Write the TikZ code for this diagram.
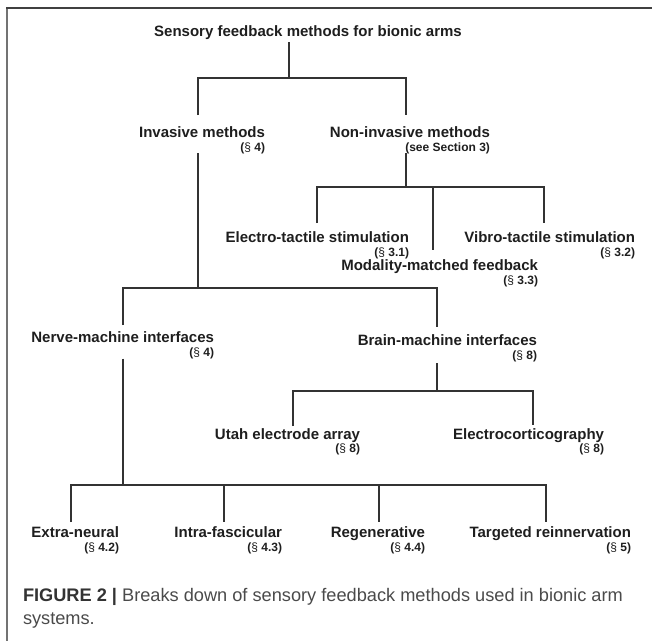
\documentclass[tikz,border=0pt]{standalone}
\usepackage{fontspec}
\setmainfont{Liberation Sans}
\definecolor{txt}{HTML}{1E1E1E}
\definecolor{lin}{HTML}{333333}
\definecolor{captb}{HTML}{333333}
\definecolor{captr}{HTML}{4A4A4A}
\newcommand{\secref}[1]{(\textmd{§}~#1)}
\begin{document}
\begin{tikzpicture}[x=1pt,y=-1pt,
  every node/.style={inner sep=0pt, outer sep=0pt, text=txt},
  item/.style={anchor=base east, font=\fontsize{15}{18}\selectfont\bfseries},
  ref/.style={anchor=base east, font=\fontsize{12}{14}\selectfont\bfseries},
  conn/.style={draw=lin, line width=1.2pt},
  capt/.style={anchor=base west, font=\fontsize{18.2}{22}\selectfont, text=captr}]
\useasboundingbox (0,0) rectangle (652,641);
% frame
\draw[draw=black!55, line width=2pt] (7,8) -- (7,641);
\draw[draw=black!75, line width=1.5pt] (6,8) -- (652,8);

% nodes
\node[item, anchor=base] (title) at (308,36) {Sensory feedback methods for bionic arms};
\node[item] (inv) at (265,137) {Invasive methods};
\node[ref] (invr) at (265,151) {\secref{4}};
\node[item] (noninv) at (490,137) {Non-invasive methods};
\node[ref] (noninvr) at (490,151) {(see Section 3)};
\node[item] (electro) at (409,242) {Electro-tactile stimulation};
\node[ref] (electror) at (409,256) {\secref{3.1}};
\node[item] (vibro) at (635,242) {Vibro-tactile stimulation};
\node[ref] (vibror) at (635,256) {\secref{3.2}};
\node[item] (modal) at (538,270) {Modality-matched feedback};
\node[ref] (modalr) at (538,284) {\secref{3.3}};
\node[item] (nerve) at (214,342) {Nerve-machine interfaces};
\node[ref] (nerver) at (214,356) {\secref{4}};
\node[item] (brain) at (537,345) {Brain-machine interfaces};
\node[ref] (brainr) at (537,359) {\secref{8}};
\node[item] (utah) at (360,439) {Utah electrode array};
\node[ref] (utahr) at (360,452) {\secref{8}};
\node[item] (ecog) at (604,439) {Electrocorticography};
\node[ref] (ecogr) at (604,452) {\secref{8}};
\node[item] (extra) at (119,537) {Extra-neural};
\node[ref] (extrar) at (119,551) {\secref{4.2}};
\node[item] (intra) at (282,537) {Intra-fascicular};
\node[ref] (intrar) at (282,551) {\secref{4.3}};
\node[item] (regen) at (425,537) {Regenerative};
\node[ref] (regenr) at (425,551) {\secref{4.4}};
\node[item] (target) at (631,537) {Targeted reinnervation};
\node[ref] (targetr) at (631,551) {\secref{5}};

\node[capt] (cap1) at (23,601) {\textcolor{captb}{\bfseries FIGURE 2 |} Breaks down of sensory feedback methods used in bionic arm};
\node[capt] (cap2) at (23,624) {systems.};

% bar A
\coordinate (aM) at (289,78);
\coordinate (aL) at (198,78);
\coordinate (aR) at (406,78);
\draw[conn, shorten <=3pt] (title.south -| aM) -- (aM);
\draw[conn, shorten <=11pt, shorten >=11pt] (inv.north -| aL) -- (aL) -- (aR) -- (noninv.north -| aR);

% bar B
\coordinate (bM) at (406,187);
\coordinate (bL) at (317,187);
\coordinate (bR) at (544,187);
\coordinate (bC) at (433,187);
\draw[conn] (noninvr.south -| bM) -- (bM);
\draw[conn, shorten <=8pt, shorten >=8pt] (electro.north -| bL) -- (bL) -- (bR) -- (vibro.north -| bR);
\draw[conn, shorten >=9pt] (bC) -- (modal.north -| bC);

% bar C
\coordinate (cM) at (198,288);
\coordinate (cL) at (123,288);
\coordinate (cR) at (437,288);
\draw[conn] (invr.south -| cM) -- (cM);
\draw[conn, shorten <=6pt, shorten >=7pt] (nerve.north -| cL) -- (cL) -- (cR) -- (brain.north -| cR);

% bar D
\coordinate (dM) at (437,391);
\coordinate (dL) at (293,391);
\coordinate (dR) at (533,391);
\draw[conn, shorten <=1.5pt] (brainr.south -| dM) -- (dM);
\draw[conn, shorten <=2pt, shorten >=3pt] (utah.north -| dL) -- (dL) -- (dR) -- (ecog.north -| dR);

% bar E
\coordinate (eM) at (123,485);
\coordinate (e1) at (71,485);
\coordinate (e2) at (224,485);
\coordinate (e3) at (379,485);
\coordinate (e4) at (546,485);
\draw[conn] (nerver.south -| eM) -- (eM);
\draw[conn, shorten <=4pt, shorten >=4pt] (extra.north -| e1) -- (e1) -- (e4) -- (target.north -| e4);
\draw[conn, shorten >=4pt] (e2) -- (intra.north -| e2);
\draw[conn, shorten >=4pt] (e3) -- (regen.north -| e3);
\end{tikzpicture}
\end{document}
